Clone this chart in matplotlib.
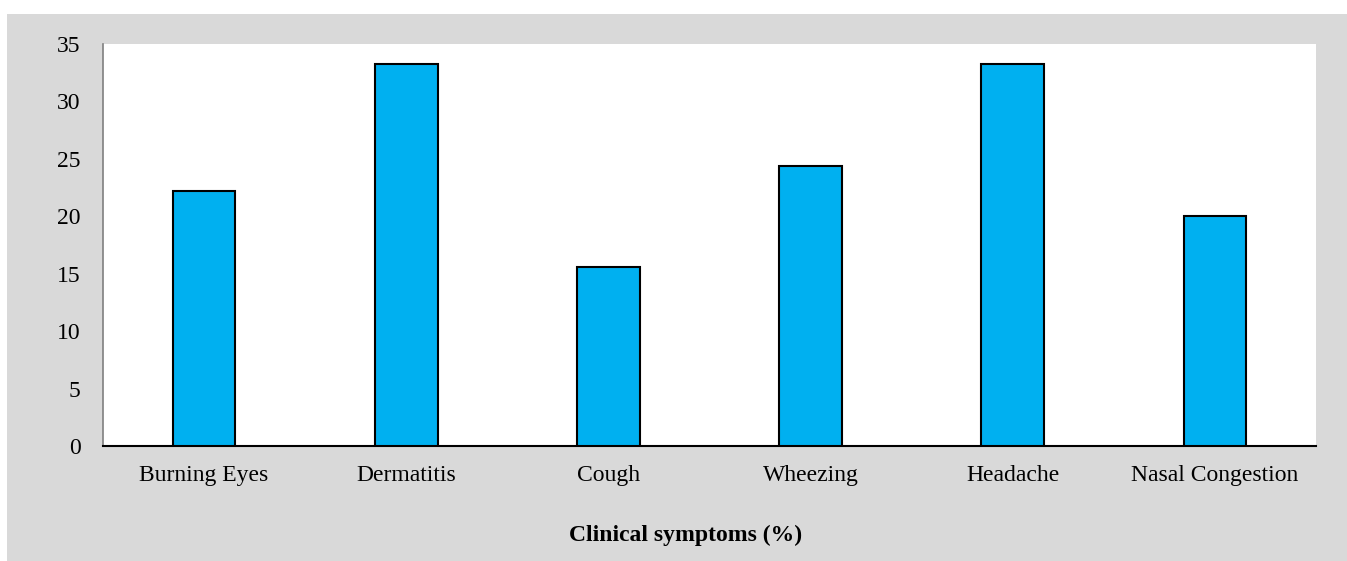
import matplotlib.pyplot as plt
from matplotlib.patches import Rectangle

# Share of respondents reporting each symptom
symptoms = ["Burning Eyes", "Dermatitis", "Cough", "Wheezing", "Headache", "Nasal Congestion"]
percent = [22.2, 33.3, 15.6, 24.4, 33.3, 20.0]
y_ticks = [0, 5, 10, 15, 20, 25, 30, 35]

plt.rcParams['font.family'] = ['Liberation Serif', 'DejaVu Serif']

W, H = 1347, 561
fig = plt.figure(figsize=(W / 100, H / 100), dpi=100, facecolor='white')

# grey chart-area panel behind the plot
fig.patches.append(Rectangle((7 / W, 0), 1 - 7 / W, 547 / H,
                             transform=fig.transFigure, facecolor='#d9d9d9',
                             edgecolor='none', zorder=-10))

ax = fig.add_axes([103 / W, (H - 446) / H, (1316 - 103) / W, (446 - 44) / H])
ax.set_facecolor('white')

x = range(len(symptoms))
ax.bar(x, percent, width=0.31, color='#00b0f0', edgecolor='black', linewidth=1.5, zorder=3)

ax.set_xlim(-0.5, len(symptoms) - 0.5)
ax.set_ylim(0, 35)
ax.set_yticks(y_ticks)
ax.set_xticks(list(x))
ax.set_xticklabels(symptoms)
ax.tick_params(axis='both', length=0, labelsize=17, colors='black')
ax.tick_params(axis='y', pad=16)
ax.tick_params(axis='x', pad=14)

for side in ['top', 'right']:
    ax.spines[side].set_visible(False)
ax.spines['left'].set_color('#7f7f7f')
ax.spines['left'].set_linewidth(1.2)
ax.spines['bottom'].set_color('black')
ax.spines['bottom'].set_linewidth(1.5)

fig.text(686 / W, 1 - 535 / H, "Clinical symptoms (%)", ha='center', va='center',
         fontsize=17, fontweight='bold')

fig.savefig('out.png', dpi=100, facecolor='white')
